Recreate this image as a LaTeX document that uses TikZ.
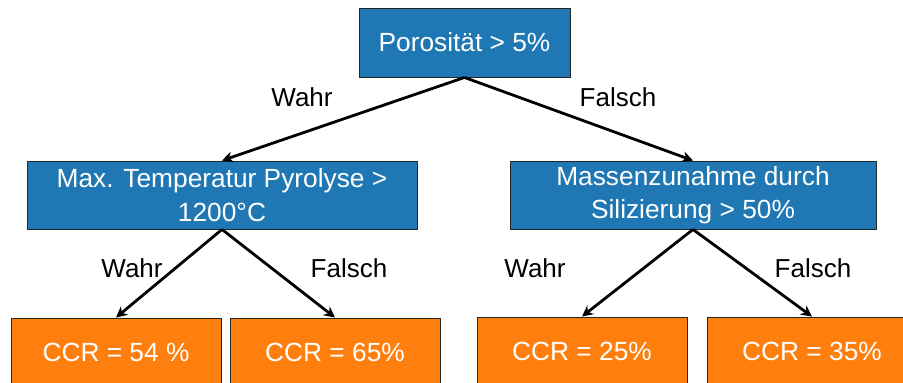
\documentclass[tikz,border=0pt]{standalone}
\usepackage{fontspec}
\setmainfont{Liberation Sans}
\usetikzlibrary{arrows.meta}
\definecolor{tblue}{HTML}{1F77B4}
\definecolor{torange}{HTML}{FF7F0E}
\tikzset{
  box/.style={draw=black!85, line width=0.9pt, minimum height=68pt, inner sep=0pt, align=center,
    text=white, font=\fontsize{26.3}{33.5}\selectfont},
  bluebox/.style={box, fill=tblue},
  orangebox/.style={box, fill=torange},
  lbl/.style={font=\fontsize{26}{30}\selectfont, inner sep=0pt},
  arr/.style={line width=2.8pt, -{Stealth[length=11pt,width=11pt]}}
}
\begin{document}
\begin{tikzpicture}[x=1pt,y=-1pt]
\useasboundingbox (0,0) rectangle (903,383);
\clip (0,0) rectangle (903,383);
\node[bluebox, minimum width=211pt, minimum height=69pt] (top) at (464.5,42.5) {Porosität > 5\%};
\node[bluebox, minimum width=390pt] (lm) at (222,195) {Max. Temperatur Pyrolyse >\\1200°C};
\node[bluebox, minimum width=366pt] (rm) at (693,195) {Massenzunahme durch\\Silizierung > 50\%};
\node[orangebox, minimum width=210pt, minimum height=69pt] (b1) at (116,352.5) {CCR = 54 \%};
\node[orangebox, minimum width=210pt, minimum height=69pt] (b2) at (335,352.5) {CCR = 65\%};
\node[orangebox, minimum width=210pt, minimum height=69pt] (b3) at (582,351.5) {CCR = 25\%};
\node[orangebox, minimum width=210pt, minimum height=69pt] (b4) at (812,351.5) {CCR = 35\%};
\draw[arr] (top.south) -- (lm.north);
\draw[arr] (top.south) -- (rm.north);
\draw[arr] (lm.south) -- (b1.north);
\draw[arr] (lm.south) -- (b2.north);
\draw[arr] (rm.south) -- (b3.north);
\draw[arr] (rm.south) -- (b4.north);
\node[lbl] (l1) at (302,97) {Wahr};
\node[lbl] (l2) at (618,97) {Falsch};
\node[lbl] (l3) at (132,268) {Wahr};
\node[lbl] (l4) at (349,268) {Falsch};
\node[lbl] (l5) at (535,268) {Wahr};
\node[lbl] (l6) at (813,268) {Falsch};
\end{tikzpicture}
\end{document}
